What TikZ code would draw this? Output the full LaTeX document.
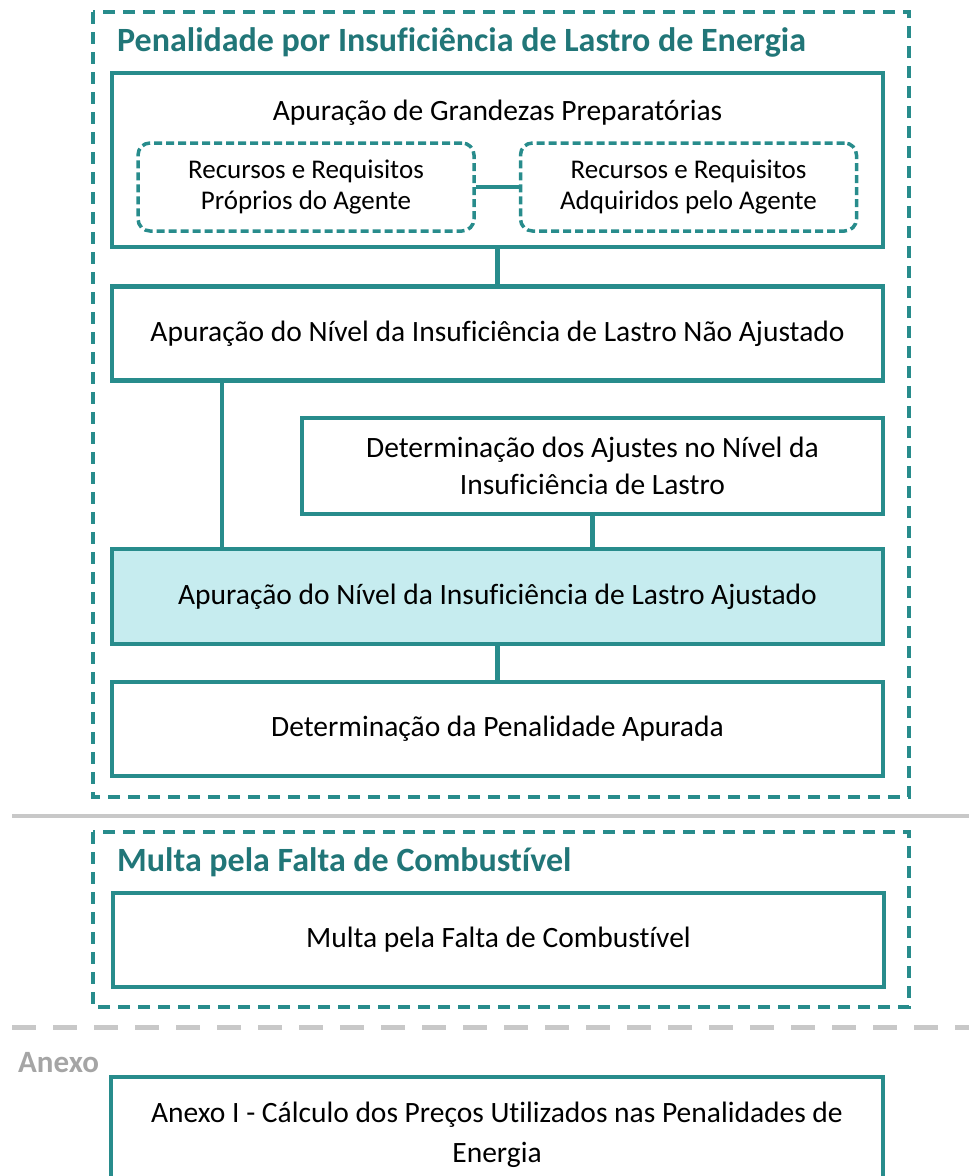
\documentclass[tikz,border=0pt]{standalone}
\usepackage{fontspec}
\setmainfont{Carlito}[Ligatures=NoCommon]
\usepackage{tikz}
\usetikzlibrary{positioning,calc}
\definecolor{ccteal}{RGB}{40,140,140}
\definecolor{cctitle}{RGB}{33,118,120}
\definecolor{ccfill}{RGB}{198,236,239}
\definecolor{ccgray}{RGB}{200,200,200}
\definecolor{ccanexo}{RGB}{165,165,165}
\newcommand{\boxfont}{\fontsize{29.5}{37}\selectfont}
\newcommand{\subfont}{\fontsize{27}{31}\selectfont}
\newcommand{\headfont}{\fontsize{34}{38}\selectfont\bfseries}

\begin{document}
\begin{tikzpicture}[x=1pt,y=-1pt,
           box/.style={draw=ccteal, line width=4.5pt, minimum width=771pt,
             minimum height=94pt, align=center, font=\boxfont, inner sep=0pt},
           subbox/.style={draw=ccteal, line width=3.5pt, dash pattern=on 8pt off 4pt,
             rounded corners=12pt, minimum width=336pt, minimum height=88pt,
             align=center, font=\subfont, inner sep=0pt},
           group/.style={draw=ccteal, line width=3.5pt, dash pattern=on 12pt off 8pt},
           head/.style={anchor=west, inner sep=0pt, text=cctitle, font=\headfont},
           link/.style={draw=ccteal, line width=4.5pt}]
          \clip (0,0) rectangle (969,1176);
          % grupos tracejados
          \draw[group] (93,12) rectangle (909,797);
          \draw[group] (93,832) rectangle (909,1007);
          \node[head] (tpen) at (117,42) {Penalidade por Insuficiência de Lastro de Energia};
          \node[head] (tmul) at (117,862) {Multa pela Falta de Combustível};
          % separadores
          \draw[ccgray, line width=4.5pt] (12,816) -- (969,816);
          \draw[ccgray, line width=5pt, dash pattern=on 24pt off 17pt] (12,1027) -- (969,1027);
          \node[anchor=west, inner sep=0pt, text=ccanexo, font=\fontsize{31}{34}\selectfont\bfseries]
            (tanexo) at (18,1063) {Anexo};
          % caixas
          \node[box, minimum height=174pt] (grand) at (497.5,160) {};
          \node[inner sep=0pt, font=\boxfont] (grandtxt) at (497.5,113) {Apuração de Grandezas Preparatórias};
          \node[subbox] (proprios) at (306,187) {Recursos e Requisitos\\Próprios do Agente};
          \node[subbox] (adquiridos) at (688.5,187) {Recursos e Requisitos\\Adquiridos pelo Agente};
          \node[box] (naoajust) at (497.5,333.5) {Apuração do Nível da Insuficiência de Lastro Não Ajustado};
          \node[box, minimum width=581pt, minimum height=96pt] (ajustes) at (592.5,466)
            {Determinação dos Ajustes no Nível da\\Insuficiência de Lastro};
          \node[box, fill=ccfill, minimum height=95pt] (ajust) at (497.5,596.5)
            {Apuração do Nível da Insuficiência de Lastro Ajustado};
          \node[box] (penal) at (497.5,729) {Determinação da Penalidade Apurada};
          \node[box] (multa) at (498.5,940) {Multa pela Falta de Combustível};
          \node[box, minimum width=772pt, minimum height=115pt] (anexo) at (497,1134.5)
            {\raisebox{3pt}{Anexo I - Cálculo dos Preços Utilizados nas Penalidades de}\\Energia};
          % ligacoes
          \path[link] (proprios) -- (adquiridos);
          \path[link] (grand) -- (naoajust);
          \path[link] ([xshift=-275.5pt]naoajust.south) -- ([xshift=-275.5pt]ajust.north);
          \path[link] (ajustes) -- (ajustes.south |- ajust.north);
          \path[link] (ajust) -- (penal);
         \end{tikzpicture}
\end{document}
